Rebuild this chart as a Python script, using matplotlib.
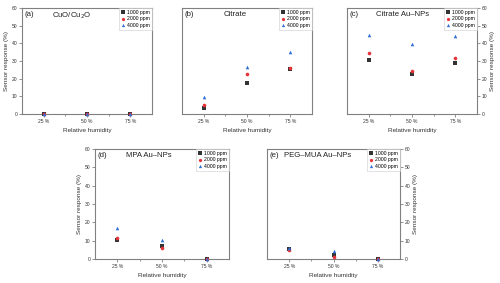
import matplotlib
matplotlib.use("Agg", force=True)
import matplotlib.pyplot as plt
import numpy as np

plt.rcParams.update({
    "font.family": ["Liberation Sans", "DejaVu Sans"],
    "font.size": 4,
    "axes.edgecolor": "#808080",
    "axes.linewidth": 0.8,
    "xtick.color": "#808080",
    "ytick.color": "#808080",
    "xtick.labelcolor": "#333333",
    "ytick.labelcolor": "#333333",
})

humidity = ["25 %", "50 %", "75 %"]
concentrations = ["1000 ppm", "2000 ppm", "4000 ppm"]
panel_letters = ["(a)", "(b)", "(c)", "(d)", "(e)"]
panel_names = ["CuO/Cu$_2$O", "Citrate", "Citrate Au–NPs", "MPA Au–NPs", "PEG–MUA Au–NPs"]

# sensor response (%) per panel, rows = concentration, cols = humidity
cuo_resp = [[0.0, 0.0, 0.0], [0.0, 0.0, 0.0], [0.0, 0.0, 0.0]]
citrate_resp = [[3.2, 17.5, 25.4], [5.1, 22.7, 25.8], [9.4, 26.5, 35.0]]
citrate_au_resp = [[30.5, 22.4, 28.8], [34.4, 24.5, 31.8], [44.8, 39.5, 44.4]]
mpa_au_resp = [[10.2, 6.9, 0.0], [11.5, 6.1, 0.0], [17.0, 10.2, 0.0]]
peg_au_resp = [[5.4, 2.2, 0.0], [5.0, 1.3, 0.0], [6.1, 4.2, 0.0]]
responses = [cuo_resp, citrate_resp, citrate_au_resp, mpa_au_resp, peg_au_resp]

COLORS = ["#333333", "#e8333a", "#2f6fd6"]
MARKERS = ["s", "o", "^"]

W, H = 500, 283
# axes boxes in pixels: left, top, right, bottom
boxes = [
    (22, 8, 152, 114),
    (182, 8, 312, 114),
    (347, 8, 477, 114),
    (95, 149, 229, 259),
    (267, 149, 400, 259),
]
yaxis_side = ["left", "none", "right", "left", "right"]
name_pos = [0.38, 0.41, 0.43, 0.40, 0.38]

fig = plt.figure(figsize=(W / 100, H / 100), dpi=100)
x = np.arange(1, len(humidity) + 1)

for i, (l, t, r, b) in enumerate(boxes):
    ax = fig.add_axes([l / W, 1 - b / H, (r - l) / W, (b - t) / H])
    for j, conc in enumerate(concentrations):
        ax.plot(x, responses[i][j], linestyle="none", marker=MARKERS[j],
                color=COLORS[j], markersize=2.6, markeredgewidth=0,
                label=conc, clip_on=False, zorder=3)
    ax.set_xlim(0.5, 3.5)
    ax.set_ylim(0, 60)
    ax.set_xticks(x)
    ax.set_xticklabels(humidity)
    ax.set_xticks([1.5, 2.5], minor=True)
    ax.set_yticks(np.arange(0, 61, 10))
    ax.tick_params(axis="both", which="major", length=2, width=0.6, pad=1.5, labelsize=3.6)
    ax.tick_params(axis="x", which="minor", length=1.5, width=0.6)
    ax.set_xlabel("Relative humidity", fontsize=4.6, labelpad=3, color="#333333")
    side = yaxis_side[i]
    if side == "left":
        ax.set_ylabel("Sensor response (%)", fontsize=4.6, labelpad=2, color="#333333")
    elif side == "right":
        ax.yaxis.tick_right()
        ax.yaxis.set_label_position("right")
        ax.set_ylabel("Sensor response (%)", fontsize=4.6, labelpad=2,
                      color="#333333", rotation=90)
    else:
        ax.tick_params(axis="y", left=False, labelleft=False)
    ax.text(0.02, 0.975, panel_letters[i], transform=ax.transAxes,
            ha="left", va="top", fontsize=5.6, color="#222222")
    ax.text(name_pos[i], 0.975, panel_names[i], transform=ax.transAxes,
            ha="center", va="top", fontsize=5.6, color="#222222")
    leg = ax.legend(loc="upper right", fontsize=3.7, frameon=True, fancybox=False,
                    borderpad=0.35, handletextpad=0.5, labelspacing=0.3,
                    handlelength=0.8, borderaxespad=0, markerscale=0.9)
    leg.get_frame().set_edgecolor("#cccccc")
    leg.get_frame().set_linewidth(0.5)

fig.savefig("out.png", dpi=100)
